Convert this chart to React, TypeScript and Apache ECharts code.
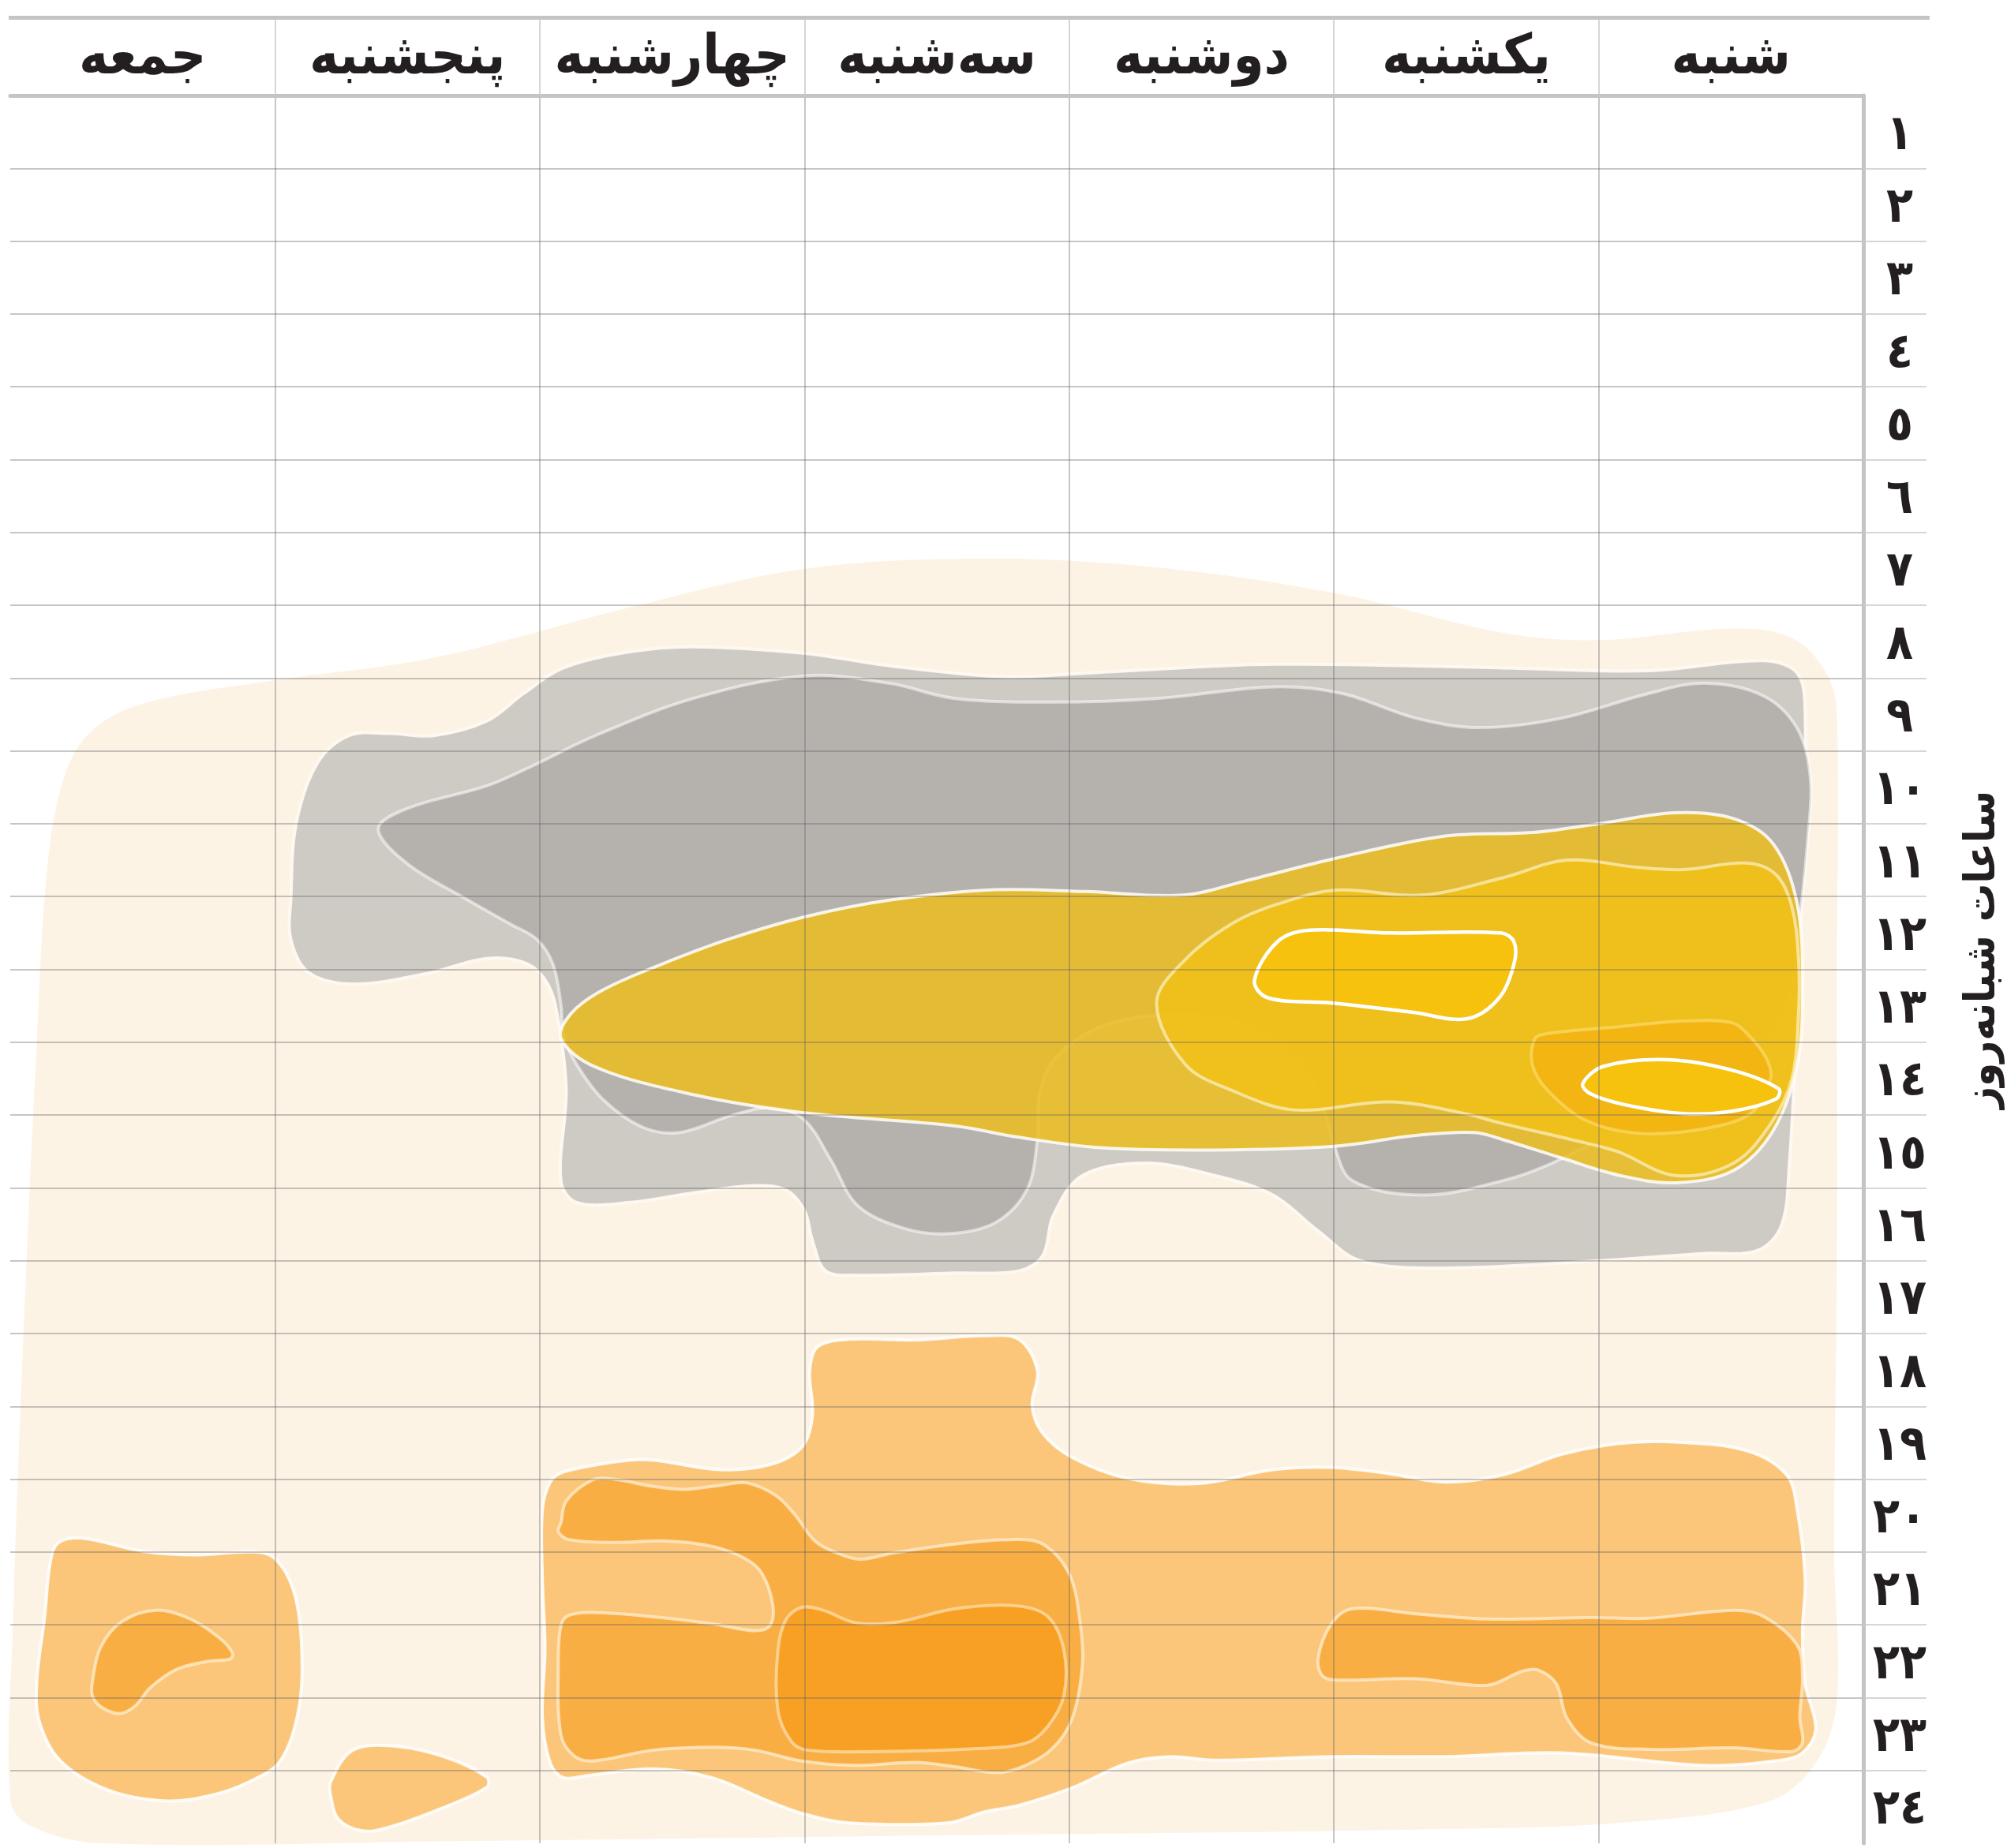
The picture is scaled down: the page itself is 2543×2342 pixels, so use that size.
import React, { useEffect, useRef } from "react";
import * as echarts from "echarts";

type Pt = [number, number];

// Days (right to left: Saturday at the right edge)
const days = ["شنبه", "یکشنبه", "دوشنبه", "سه‌شنبه", "چهارشنبه", "پنجشنبه", "جمعه"];
// Hours of the day (top to bottom)
const hourLabels = ["١", "٢", "٣", "٤", "٥", "٦", "٧", "٨", "٩", "١٠", "١١", "١٢", "١٣", "١٤", "١٥", "١٦", "١٧", "١٨", "١٩", "٢٠", "٢١", "٢٢", "٢٣", "٢٤"];
const yTitle = "ساعات شبانه‌روز";
const dayBoundaries = [1, 2, 3, 4, 5, 6];
const hourBoundaries = [1, 2, 3, 4, 5, 6, 7, 8, 9, 10, 11, 12, 13, 14, 15, 16, 17, 18, 19, 20, 21, 22, 23];

// Contour levels, in (day index from the right, hour from the top) units
const creamLevel: Pt[] = [
  [7.0, 23.4], [6.99, 21.0], [6.95, 17.0], [6.9, 13.0], [6.86, 10.6], [6.8, 9.4], [6.7, 8.75], [6.5, 8.35], [6.0, 8.03],
  [5.4, 7.72], [4.66, 7.03], [4.0, 6.5], [3.31, 6.36], [2.67, 6.48], [2.0, 6.83], [1.36, 7.38], [1.0, 7.48], [0.49, 7.32],
  [0.27, 7.45], [0.14, 7.93], [0.1, 8.5], [0.1, 12.0], [0.1, 16.0], [0.11, 20.0], [0.1, 22.05], [0.18, 22.9], [0.36, 23.43],
  [0.92, 23.72], [1.66, 23.81], [3.2, 23.88], [5.3, 23.97], [6.66, 24.0], [6.93, 23.75],
];
const grayOuter: Pt[] = [
  [5.94, 11.03], [5.92, 10.0], [5.84, 9.17], [5.72, 8.79], [5.57, 8.76], [5.40, 8.79], [5.20, 8.59], [5.06, 8.21], [4.91, 7.86],
  [4.66, 7.64], [4.42, 7.57], [4.0, 7.66], [3.68, 7.83], [3.25, 7.98], [2.88, 7.92], [2.23, 7.81], [1.36, 7.86], [0.81, 7.9],
  [0.38, 7.76], [0.25, 7.93], [0.22, 8.48], [0.23, 10.55], [0.25, 12.62], [0.28, 14.69], [0.31, 15.52], [0.40, 15.86],
  [0.60, 15.90], [1.0, 16.0], [1.58, 16.1], [1.90, 16.0], [2.06, 15.59], [2.23, 15.1], [2.45, 14.83], [2.71, 14.66],
  [2.95, 14.83], [3.06, 15.38], [3.10, 15.93], [3.19, 16.14], [3.43, 16.17], [3.80, 16.2], [3.92, 16.14], [3.97, 15.72],
  [4.0, 15.31], [4.07, 15.03], [4.19, 14.97], [4.42, 15.07], [4.66, 15.2], [4.86, 15.2], [4.92, 14.9], [4.90, 13.66],
  [4.93, 12.7], [4.97, 12.2], [5.05, 11.92], [5.2, 11.85], [5.42, 12.05], [5.70, 12.2], [5.87, 12.05], [5.94, 11.59],
];
const grayInner: Pt[] = [
  [5.61, 10.07], [5.50, 9.79], [5.20, 9.48], [5.03, 9.21], [4.79, 8.79], [4.42, 8.28], [4.0, 7.97], [3.68, 8.07], [3.43, 8.28],
  [3.06, 8.33], [2.67, 8.28], [2.23, 8.12], [1.97, 8.21], [1.69, 8.55], [1.45, 8.68], [1.14, 8.55], [0.81, 8.21], [0.60, 8.07],
  [0.38, 8.24], [0.25, 8.69], [0.20, 9.38], [0.21, 10.21], [0.24, 11.3], [0.28, 12.4], [0.4, 13.2], [0.62, 13.75], [0.92, 14.21],
  [1.2, 14.7], [1.36, 14.9], [1.66, 15.1], [1.93, 14.9], [2.0, 14.41], [2.03, 14.0], [2.12, 13.31], [2.34, 12.76], [2.60, 12.62],
  [2.86, 12.76], [3.04, 13.17], [3.11, 13.66], [3.12, 14.34], [3.16, 15.03], [3.28, 15.48], [3.46, 15.63], [3.63, 15.55],
  [3.80, 15.24], [3.90, 14.62], [4.0, 14.07], [4.12, 13.9], [4.27, 14.0], [4.47, 14.24], [4.61, 14.17], [4.76, 13.79],
  [4.86, 13.31], [4.91, 12.9], [4.92, 12.48], [4.95, 11.93], [5.01, 11.59], [5.11, 11.38], [5.28, 11.03], [5.50, 10.55],
];
const yellowLow: Pt[] = [
  [4.92, 12.95], [4.88, 12.6], [4.76, 12.28], [4.54, 11.93], [4.29, 11.59], [4.0, 11.28], [3.68, 11.05], [3.31, 10.91],
  [2.94, 10.93], [2.57, 10.98], [2.34, 10.79], [2.0, 10.48], [1.58, 10.17], [1.25, 10.12], [1.0, 10.0], [0.71, 9.85],
  [0.49, 9.93], [0.34, 10.28], [0.25, 11.1], [0.23, 12.28], [0.25, 13.31], [0.34, 14.21], [0.49, 14.76], [0.71, 14.93],
  [0.92, 14.83], [1.14, 14.59], [1.36, 14.34], [1.47, 14.24], [1.69, 14.28], [2.0, 14.43], [2.45, 14.48], [2.88, 14.45],
  [3.2, 14.3], [3.43, 14.15], [4.0, 13.97], [4.42, 13.72], [4.79, 13.34],
];
const yellowMid: Pt[] = [
  [2.67, 12.46], [2.56, 11.86], [2.38, 11.36], [2.21, 11.1], [1.99, 10.91], [1.67, 10.98], [1.36, 10.74], [1.12, 10.5],
  [0.85, 10.6], [0.68, 10.63], [0.44, 10.54], [0.33, 10.70], [0.27, 11.14], [0.245, 11.86], [0.245, 12.6], [0.27, 13.5],
  [0.35, 14.12], [0.49, 14.66], [0.71, 14.83], [0.93, 14.5], [1.10, 14.34], [1.36, 14.12], [1.53, 13.96], [1.79, 13.82],
  [2.15, 13.93], [2.38, 13.67], [2.56, 13.31],
];
const amberPatch: Pt[] = [
  [1.24, 12.95], [1.19, 12.88], [0.93, 12.79], [0.68, 12.71], [0.50, 12.73], [0.44, 12.88], [0.37, 13.2], [0.35, 13.49],
  [0.42, 13.96], [0.59, 14.18], [0.85, 14.25], [1.05, 14.07], [1.19, 13.67], [1.25, 13.31],
];
const yellowPeakA: Pt[] = [
  [2.30, 12.15], [2.21, 11.61], [2.09, 11.46], [1.79, 11.5], [1.37, 11.5], [1.32, 11.62], [1.32, 11.93], [1.38, 12.41],
  [1.50, 12.68], [1.70, 12.59], [2.01, 12.46], [2.25, 12.39],
];
const yellowPeakB: Pt[] = [
  [1.06, 13.57], [0.98, 13.33], [0.74, 13.24], [0.50, 13.38], [0.32, 13.64], [0.33, 13.78], [0.50, 13.95], [0.68, 13.98],
  [0.90, 13.86], [1.03, 13.71],
];
const orangeLowMain: Pt[] = [
  [4.91, 18.9], [4.69, 18.75], [4.57, 18.74], [4.32, 18.87], [4.13, 18.8], [4.01, 18.56], [3.97, 18.13], [3.98, 17.51],
  [3.95, 17.18], [3.83, 17.08], [3.58, 17.09], [3.32, 17.03], [3.19, 17.08], [3.12, 17.51], [3.14, 17.99], [3.10, 18.37],
  [2.99, 18.7], [2.78, 18.99], [2.51, 19.06], [2.23, 18.87], [2.01, 18.84], [1.80, 18.92], [1.58, 19.04], [1.36, 18.94],
  [1.14, 18.66], [0.92, 18.51], [0.71, 18.49], [0.44, 18.61], [0.29, 18.94], [0.25, 19.42], [0.22, 20.37], [0.23, 21.09],
  [0.22, 21.81], [0.18, 22.43], [0.23, 22.76], [0.31, 22.86], [0.60, 22.93], [1.14, 22.76], [1.58, 22.81], [2.01, 22.81],
  [2.45, 22.86], [2.62, 22.81], [2.78, 22.9], [2.99, 23.24], [3.19, 23.48], [3.32, 23.57], [3.46, 23.72], [3.83, 23.72],
  [4.0, 23.6], [4.13, 23.43], [4.35, 23.1], [4.57, 22.98], [4.82, 23.07], [4.91, 23.1], [4.96, 22.9], [4.99, 22.28],
  [4.98, 21.33], [4.99, 20.37], [4.99, 19.42], [4.96, 19.04],
];
const orangeLowFri: Pt[] = [
  [6.82, 19.88], [6.73, 19.81], [6.50, 19.99], [6.30, 20.04], [6.08, 20.0], [6.0, 20.09], [5.93, 20.53], [5.90, 21.25],
  [5.91, 22.15], [5.98, 22.87], [6.10, 23.16], [6.24, 23.34], [6.41, 23.42], [6.63, 23.27], [6.81, 22.87], [6.89, 22.33],
  [6.90, 21.79], [6.87, 20.89], [6.85, 20.17],
];
const orangeLowThu: Pt[] = [
  [5.79, 23.16], [5.71, 22.73], [5.57, 22.66], [5.37, 22.8], [5.20, 23.09], [5.20, 23.23], [5.37, 23.52], [5.57, 23.78],
  [5.67, 23.83], [5.76, 23.67], [5.79, 23.34],
];
const orangeMidWed: Pt[] = [
  [4.92, 19.6], [4.90, 19.3], [4.80, 19.01], [4.72, 19.0], [4.57, 19.1], [4.45, 19.14], [4.31, 19.08], [4.22, 19.05],
  [4.11, 19.22], [4.04, 19.47], [3.96, 19.85], [3.88, 20.01], [3.79, 20.1], [3.66, 20.01], [3.43, 19.89], [3.22, 19.83],
  [3.10, 19.89], [3.0, 20.3], [2.96, 20.93], [2.95, 21.55], [2.99, 22.30], [3.07, 22.72], [3.19, 22.97], [3.28, 23.03],
  [3.43, 22.95], [3.58, 22.89], [3.81, 22.93], [4.01, 22.87], [4.19, 22.72], [4.34, 22.68], [4.57, 22.72], [4.80, 22.87],
  [4.87, 22.8], [4.92, 22.51], [4.93, 21.55], [4.92, 21.01], [4.89, 20.87], [4.80, 20.83], [4.57, 20.89], [4.34, 20.99],
  [4.19, 21.08], [4.13, 21.01], [4.12, 20.72], [4.16, 20.3], [4.22, 20.1], [4.34, 19.93], [4.52, 19.85], [4.72, 19.87],
  [4.89, 19.83], [4.93, 19.72],
];
const orangeHighTue: Pt[] = [
  [4.10, 21.35], [4.07, 20.93], [4.01, 20.76], [3.93, 20.8], [3.81, 20.97], [3.66, 20.97], [3.43, 20.78], [3.20, 20.74],
  [3.08, 20.89], [3.02, 21.35], [3.02, 21.97], [3.08, 22.39], [3.16, 22.62], [3.35, 22.7], [3.73, 22.74], [3.99, 22.72],
  [4.05, 22.6], [4.10, 22.18],
];
const orangeMidSat: Pt[] = [
  [2.06, 21.47], [2.01, 20.99], [1.93, 20.78], [1.69, 20.85], [1.42, 20.92], [1.03, 20.9], [0.81, 20.91], [0.49, 20.8],
  [0.38, 20.88], [0.25, 21.28], [0.23, 21.71], [0.24, 22.28], [0.23, 22.62], [0.27, 22.74], [0.49, 22.69], [0.81, 22.71],
  [1.03, 22.62], [1.12, 22.28], [1.16, 21.81], [1.23, 21.62], [1.29, 21.64], [1.42, 21.83], [1.69, 21.74], [1.97, 21.76],
  [2.04, 21.71],
];
const orangeMidFri: Pt[] = [
  [6.69, 21.79], [6.66, 21.32], [6.58, 20.96], [6.45, 20.8], [6.32, 20.92], [6.21, 21.18], [6.16, 21.39], [6.17, 21.47],
  [6.25, 21.5], [6.37, 21.61], [6.47, 21.86], [6.53, 22.12], [6.59, 22.22], [6.66, 22.12], [6.69, 21.97],
];

const FONT = "'DejaVu Sans Condensed', 'DejaVu Sans', sans-serif";
const TEXT = "#231f20";
const GRIDLINE = "rgba(105,105,105,0.5)";

const layers = [
  { pts: creamLevel, fill: "#fdf3e5", stroke: "rgba(0,0,0,0)", lw: 0 },
  { pts: grayOuter, fill: "#cecac4", stroke: "rgba(255,250,242,0.92)", lw: 4 },
  { pts: grayInner, fill: "#b5b1ad", stroke: "rgba(255,255,255,0.55)", lw: 4 },
  { pts: yellowLow, fill: "rgba(235,189,32,0.86)", stroke: "rgba(255,255,255,0.85)", lw: 4 },
  { pts: yellowMid, fill: "rgba(241,192,24,0.86)", stroke: "rgba(255,250,225,0.6)", lw: 4 },
  { pts: amberPatch, fill: "#f2b512", stroke: "rgba(255,225,130,0.55)", lw: 4 },
  { pts: yellowPeakA, fill: "#f6c20e", stroke: "#ffffff", lw: 4.5 },
  { pts: yellowPeakB, fill: "#f6c20e", stroke: "#ffffff", lw: 4.5 },
  { pts: orangeLowMain, fill: "#fbc679", stroke: "rgba(255,255,255,0.88)", lw: 4 },
  { pts: orangeLowFri, fill: "#fbc679", stroke: "rgba(255,255,255,0.88)", lw: 4 },
  { pts: orangeLowThu, fill: "#fbc679", stroke: "rgba(255,255,255,0.88)", lw: 4 },
  { pts: orangeMidWed, fill: "#f9ae43", stroke: "rgba(255,238,210,0.75)", lw: 4 },
  { pts: orangeMidSat, fill: "#f9ae43", stroke: "rgba(255,238,210,0.75)", lw: 4 },
  { pts: orangeMidFri, fill: "#f9ae43", stroke: "rgba(255,238,210,0.75)", lw: 4 },
  { pts: orangeHighTue, fill: "#f7a024", stroke: "rgba(255,230,190,0.65)", lw: 4 },
];

export default function App() {
  const ref = useRef<HTMLDivElement>(null);
  useEffect(() => {
    if (!ref.current) return;
    const chart = echarts.init(ref.current, undefined, { renderer: "svg" });
    const option: any = {
      animation: false,
      backgroundColor: "#ffffff",
      textStyle: { fontFamily: FONT },
      grid: { left: 13, right: 177, top: 121, bottom: 6, containLabel: false },
      graphic: [
        { type: "rect", z: 10, shape: { x: 11, y: 20, width: 2434, height: 5 }, style: { fill: "#c4c4c4" } },
      ],
      xAxis: [
        {
          type: "category", data: days, inverse: true, position: "top", boundaryGap: true, z: 6,
          axisLine: { show: true, lineStyle: { color: "#c4c4c4", width: 5 } },
          axisTick: { show: false },
          axisLabel: { interval: 0, margin: 52, verticalAlign: "middle", fontSize: 70, fontWeight: "bold", color: TEXT, fontFamily: FONT },
          splitLine: { show: false },
        },
        {
          type: "value", min: 0, max: 7, interval: 1, inverse: true, position: "top", z: 6,
          axisLine: { show: false }, axisLabel: { show: false },
          splitLine: { show: true, lineStyle: { color: GRIDLINE, width: 1.5 } },
          axisTick: { show: true, customValues: dayBoundaries, length: 97, lineStyle: { color: "#c9c9c9", width: 1.5 } },
        },
      ],
      yAxis: [
        {
          type: "category", data: hourLabels, inverse: true, position: "right", boundaryGap: true, z: 6,
          axisLine: { show: true, lineStyle: { color: "#c4c4c4", width: 5 } },
          axisTick: { show: false },
          axisLabel: { interval: 0, margin: 46, align: "center", fontSize: 62, fontWeight: "bold", color: TEXT, fontFamily: FONT },
          splitLine: { show: false },
          name: yTitle, nameLocation: "middle", nameGap: 120, nameRotate: 90,
          nameTextStyle: { fontSize: 54, fontWeight: "bold", color: TEXT, fontFamily: FONT, padding: [0, 0, 0, 50] },
        },
        {
          type: "value", min: 0, max: 24, interval: 1, inverse: true, position: "right", z: 6,
          axisLine: { show: false }, axisLabel: { show: false },
          splitLine: { show: true, lineStyle: { color: GRIDLINE, width: 1.5 } },
          axisTick: { show: true, customValues: hourBoundaries, length: 80, lineStyle: { color: "#c9c9c9", width: 1.5 } },
        },
      ],
      series: [
        {
          type: "custom",
          coordinateSystem: "cartesian2d",
          xAxisIndex: 1,
          yAxisIndex: 1,
          silent: true,
          clip: false,
          z: 2,
          data: layers.map((_, i) => [0, 0, i]),
          encode: { x: 0, y: 1 },
          renderItem: (params: any, api: any) => {
            const layer = layers[params.dataIndex];
            const points = layer.pts.map((p) => api.coord(p));
            return {
              type: "polygon",
              shape: { points, smooth: 0.35 },
              style: { fill: layer.fill, stroke: layer.stroke, lineWidth: layer.lw, lineJoin: "round" },
            };
          },
        },
      ],
    };
    chart.setOption(option);
    return () => chart.dispose();
  }, []);
  return <div ref={ref} style={{ position: "absolute", left: 0, top: 0, width: 2543, height: 2342 }} />;
}
